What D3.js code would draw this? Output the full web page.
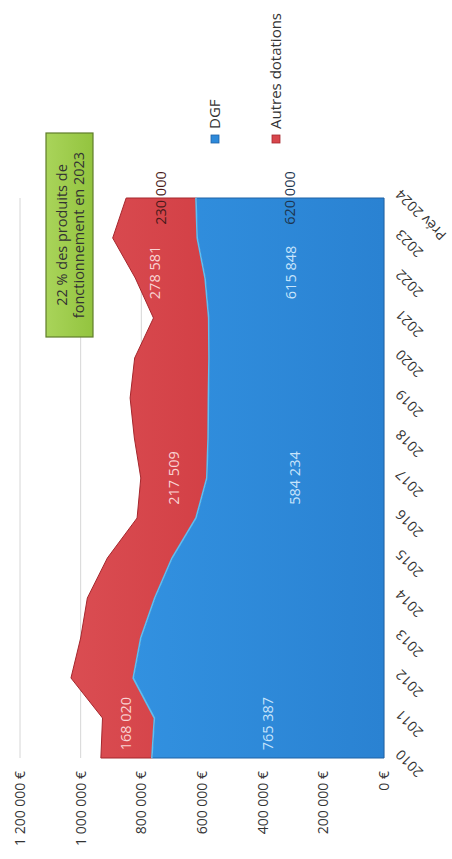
<!DOCTYPE html>
<html>
<head>
<meta charset="utf-8">
<script src="https://cdn.jsdelivr.net/npm/d3@7"></script>
<style>
  body { margin: 0; background: #fff; }
  svg { display: block; font-family: "Open Sans", "DejaVu Sans", sans-serif; }
</style>
</head>
<body>
<svg id="chart" width="452" height="859"></svg>
<script>
// Dotations reçues par année (en euros)
const categories = ["2010", "2011", "2012", "2013", "2014", "2015", "2016", "2017",
                    "2018", "2019", "2020", "2021", "2022", "2023", "Prév 2024"];
const dgf    = [765387, 757000, 827000, 802000, 756000, 699000, 620000, 584234,
                580000, 579000, 577000, 578000, 590000, 615848, 620000];
const autres = [168020, 171000, 205000, 198000, 222000, 213000, 194000, 217509,
                243000, 258000, 245000, 182000, 230000, 278581, 230000];
const seriesNames = ["DGF", "Autres dotations"];
const valueTicks = [0, 200000, 400000, 600000, 800000, 1000000, 1200000];
const tickLabels = ["0 €", "200 000 €", "400 000 €", "600 000 €", "800 000 €", "1 000 000 €", "1 200 000 €"];
const labelledYears = ["2010", "2017", "2023", "Prév 2024"];
const annotation = ["22 % des produits de", "fonctionnement en 2023"];

// Chart is laid out in its own frame, then turned a quarter turn on the page
const PAGE_W = 452, PAGE_H = 859;
const W = PAGE_H, H = PAGE_W;

const colors = { dgf: "#2d89da", autres: "#d8464c" };

const rows = categories.map((c, i) => ({ cat: c, dgf: dgf[i], autres: autres[i] }));
const stack = d3.stack().keys(["dgf", "autres"]);
const layers = stack(rows);

const x = d3.scalePoint().domain(categories).range([101, 661]);
const y = d3.scaleLinear().domain([0, 1200000]).range([384, 20]);

const fr = d3.formatLocale({ decimal: ",", thousands: "\u00a0", grouping: [3], currency: ["", " €"] });
const fmt = fr.format(",.0f");

const svg = d3.select("#chart");
const defs = svg.append("defs");
const gBlue = defs.append("linearGradient").attr("id", "gBlue").attr("x1", 0).attr("y1", 0).attr("x2", 0).attr("y2", 1);
gBlue.append("stop").attr("offset", "0%").attr("stop-color", "#3291e0");
gBlue.append("stop").attr("offset", "100%").attr("stop-color", "#2a82d2");
const gRed = defs.append("linearGradient").attr("id", "gRed").attr("x1", 0).attr("y1", 0).attr("x2", 0).attr("y2", 1);
gRed.append("stop").attr("offset", "0%").attr("stop-color", "#da4d52");
gRed.append("stop").attr("offset", "100%").attr("stop-color", "#d34046");
const gGreen = defs.append("linearGradient").attr("id", "gGreen").attr("x1", 0).attr("y1", 0).attr("x2", 0).attr("y2", 1);
gGreen.append("stop").attr("offset", "0%").attr("stop-color", "#a9d45a");
gGreen.append("stop").attr("offset", "100%").attr("stop-color", "#93c43f");

const g = svg.append("g").attr("transform", `translate(0,${PAGE_H}) rotate(-90)`);

// Gridlines
g.append("g").selectAll("line").data(valueTicks).join("line")
  .attr("x1", x.range()[0]).attr("x2", x.range()[1])
  .attr("y1", d => y(d)).attr("y2", d => y(d))
  .attr("stroke", "#d6d6d6").attr("stroke-width", 1);

// Stacked areas
const area = d3.area()
  .x(d => x(d.data.cat))
  .y0(d => y(d[0]))
  .y1(d => y(d[1]));
const topLine = d3.line().x(d => x(d.data.cat)).y(d => y(d[1]));

g.append("path").datum(layers[0]).attr("d", area)
  .attr("fill", "url(#gBlue)").attr("stroke", "#1f62a6").attr("stroke-width", 1);
g.append("path").datum(layers[1]).attr("d", area)
  .attr("fill", "url(#gRed)").attr("stroke", "#a5272d").attr("stroke-width", 1);
g.append("path").datum(layers[0]).attr("d", topLine)
  .attr("fill", "none").attr("stroke", "#5cc0f4").attr("stroke-width", 1.6);

// Value axis labels
g.append("g").selectAll("text").data(valueTicks).join("text")
  .attr("x", 88).attr("y", d => y(d)).attr("dy", "0.35em")
  .attr("text-anchor", "end").attr("font-size", 14).attr("fill", "#333")
  .text((d, i) => tickLabels[i]);

// Category axis labels
g.append("g").selectAll("text").data(categories).join("text")
  .attr("transform", d => `translate(${x(d) + 6},${y(0) + 14}) rotate(-45)`)
  .attr("dy", "0.35em")
  .attr("text-anchor", "end").attr("font-size", 14).attr("fill", "#333")
  .text(d => d);

// Data labels (edge labels nudged inward so they sit inside the plot)
const step = x.step();
const nudge = { "2010": 0.86, "2023": -0.86 };
const darkLabel = { "Prév 2024": true };
labelledYears.forEach(cat => {
  const i = categories.indexOf(cat);
  const lx = x(cat) + (nudge[cat] || 0) * step;
  layers.forEach((layer, k) => {
    const d = layer[i];
    const key = k === 0 ? "dgf" : "autres";
    const val = key === "dgf" ? dgf[i] : autres[i];
    g.append("text")
      .attr("x", lx).attr("y", (y(d[0]) + y(d[1])) / 2).attr("dy", "0.35em")
      .attr("text-anchor", "middle").attr("font-size", 14.5)
      .attr("fill", darkLabel[cat] ? (key === "dgf" ? "#1d3550" : "#4a1a1a") : (key === "dgf" ? "#c7e4fb" : "#f9d3d3"))
      .text(fmt(val));
  });
});

// Annotation box
const box = { x: 522, y: 46, w: 204, h: 47 };
g.append("rect").attr("x", box.x).attr("y", box.y).attr("width", box.w).attr("height", box.h)
  .attr("fill", "url(#gGreen)").attr("stroke", "#5f7d2a").attr("stroke-width", 1.2);
g.append("g").selectAll("text").data(annotation).join("text")
  .attr("x", box.x + box.w / 2).attr("y", (d, i) => box.y + 16 + i * 17).attr("dy", "0.35em")
  .attr("text-anchor", "middle").attr("font-size", 14.5).attr("fill", "#333")
  .text(d => d);

// Legend
const legend = g.append("g").selectAll("g").data(seriesNames).join("g")
  .attr("transform", (d, i) => `translate(716,${215 + i * 61})`);
legend.append("rect").attr("x", 0).attr("y", -4).attr("width", 8).attr("height", 8)
  .attr("fill", (d, i) => i === 0 ? colors.dgf : colors.autres)
  .attr("stroke", (d, i) => i === 0 ? "#1f62a6" : "#a5272d").attr("stroke-width", 0.8);
legend.append("text").attr("x", 14).attr("y", 0).attr("dy", "0.35em")
  .attr("font-size", 15).attr("fill", "#333").text(d => d);
</script>
</body>
</html>
